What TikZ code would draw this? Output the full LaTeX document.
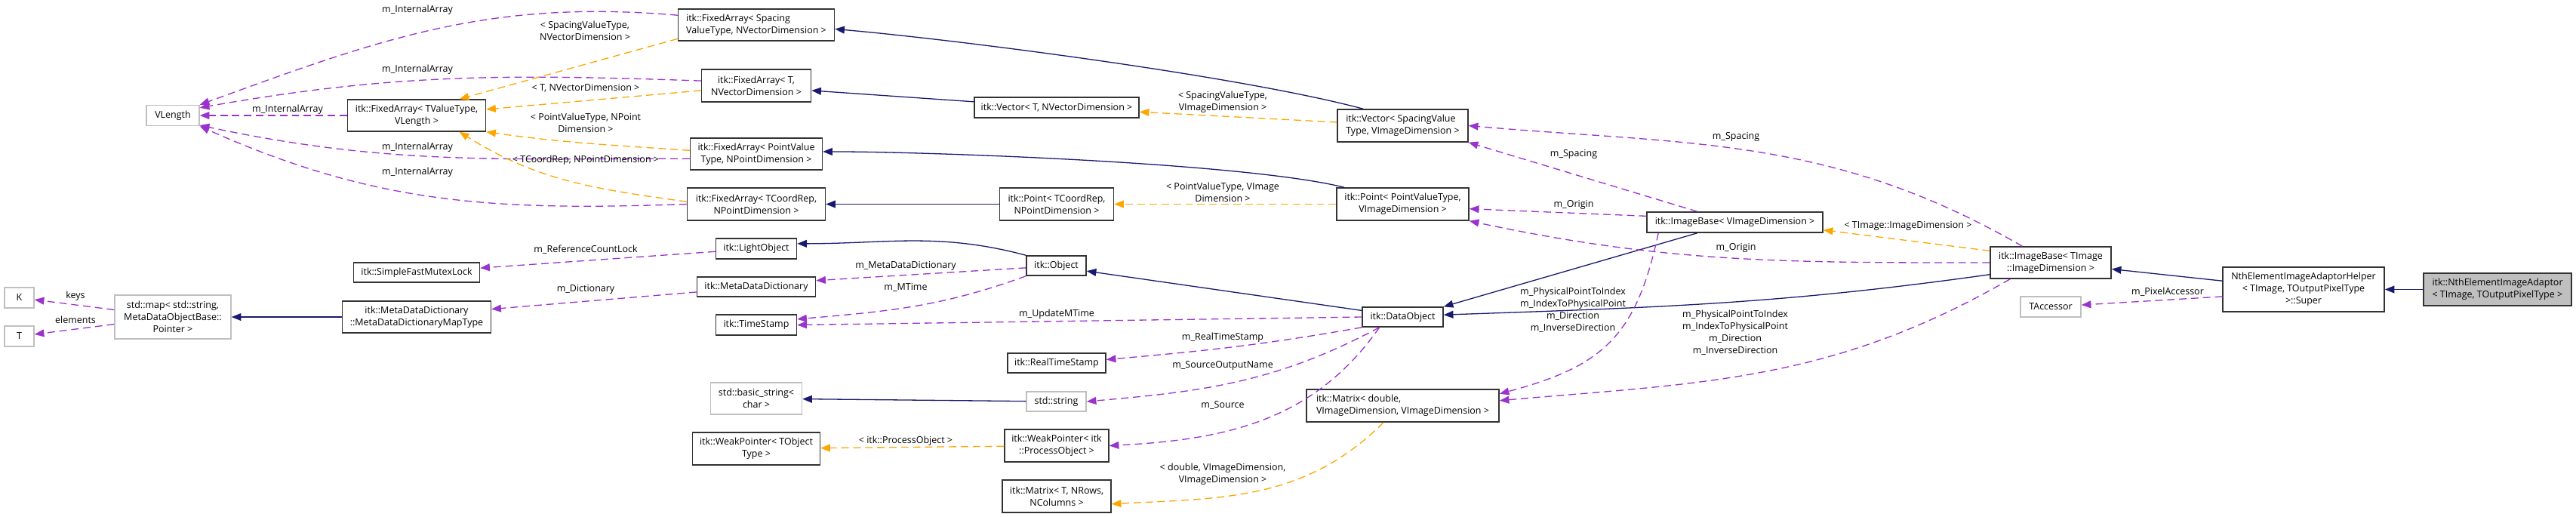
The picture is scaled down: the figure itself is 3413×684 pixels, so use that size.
\documentclass[tikz,border=0pt]{standalone}
\usepackage{fontspec}
\setmainfont{Open Sans}
\usetikzlibrary{arrows.meta}
\definecolor{navyedge}{HTML}{191970}
\definecolor{orchidedge}{HTML}{9A32CD}
\definecolor{tplorange}{HTML}{FFA500}
\definecolor{extgray}{HTML}{BFBFBF}
\begin{document}
\begin{tikzpicture}[x=0.01cm,y=-0.01cm,
	every node/.style={font=\fontsize{3.55}{4.55}\selectfont, inner sep=0pt},
	sz/.style 2 args={minimum width=#1*0.01cm, minimum height=#2*0.01cm},
	cls/.style={draw=black!80, fill=white, line width=0.42pt, align=center},
	ext/.style={cls, draw=extgray},
	cur/.style={cls, fill=extgray},
	lbl/.style={align=center},
	inh/.style={draw=navyedge, line width=0.37pt, -{Triangle[length=3.6pt,width=2.8pt]}},
	member/.style={draw=orchidedge, line width=0.37pt, dash pattern=on 2.8pt off 1.7pt, -{Triangle[length=3.6pt,width=2.8pt]}},
	tmpl/.style={member, draw=tplorange}]
	\useasboundingbox (0,0) rectangle (3413,684);
	% classes
	\node[ext, sz={70}{27}] (vlen) at (229,153) {VLength};
	\node[cls, sz={183}{42}] (faTV) at (552,153) {itk::FixedArray< TValueType,\\VLength >};
	\node[cls, sz={207}{42}, align=left] (faSp) at (1002,33) {itk::FixedArray< Spacing\\ValueType, NVectorDimension >};
	\node[cls, sz={145}{43}] (faT) at (1002,113.5) {itk::FixedArray< T,\\NVectorDimension >};
	\node[cls, sz={175}{42}] (faPV) at (1002,204) {itk::FixedArray< PointValue\\Type, NPointDimension >};
	\node[cls, sz={183}{43}] (faCR) at (1002,270.5) {itk::FixedArray< TCoordRep,\\NPointDimension >};
	\node[cls, sz={107}{27}] (light) at (1002,329.5) {itk::LightObject};
	\node[ext, sz={39}{27}] (keyK) at (25.5,394.5) {K};
	\node[ext, sz={39}{27}] (keyT) at (25.5,445.5) {T};
	\node[ext, sz={154}{58}] (stdmap) at (229,420) {std::map< std::string,\\MetaDataObjectBase::\\Pointer >};
	\node[cls, sz={167}{26}] (mutex) at (552,361) {itk::SimpleFastMutexLock};
	\node[cls, sz={197}{42}] (mapT) at (552,420) {itk::MetaDataDictionary\\::MetaDataDictionaryMapType};
	\node[cls, sz={157}{26}] (mdd) at (1002,380) {itk::MetaDataDictionary};
	\node[cls, sz={107}{27}] (tstamp) at (1002,430.5) {itk::TimeStamp};
	\node[ext, sz={121}{42}] (bstr) at (1002,528) {std::basic\_string<\\char >};
	\node[cls, sz={169}{43}] (wpT) at (1002,594.5) {itk::WeakPointer< TObject\\Type >};
	\node[cls, sz={218}{27}] (vecT) at (1400,142.5) {itk::Vector< T, NVectorDimension >};
	\node[cls, sz={151}{43}] (ptCR) at (1400,270.5) {itk::Point< TCoordRep,\\NPointDimension >};
	\node[cls, sz={79}{26}] (obj) at (1399.5,352) {itk::Object};
	\node[cls, sz={130}{26}] (rts) at (1400,481) {itk::RealTimeStamp};
	\node[ext, sz={79}{26}] (str) at (1399.5,532) {std::string};
	\node[cls, sz={138}{43}] (wpPO) at (1400,590.5) {itk::WeakPointer< itk\\::ProcessObject >};
	\node[cls, sz={144}{43}] (matT) at (1400,657.5) {itk::Matrix< T, NRows,\\NColumns >};
	\node[cls, sz={173}{43}, align=left] (vecSp) at (1858.5,166.5) {itk::Vector< SpacingValue\\Type, VImageDimension >};
	\node[cls, sz={175}{43}] (ptPV) at (1858.5,270.5) {itk::Point< PointValueType,\\VImageDimension >};
	\node[cls, sz={107}{26}] (data) at (1858.5,420) {itk::DataObject};
	\node[cls, sz={255}{43}, align=left] (matD) at (1858.5,537.5) {itk::Matrix< double,\\ VImageDimension, VImageDimension >};
	\node[cls, sz={233}{27}] (ibV) at (2298.5,294.5) {itk::ImageBase< VImageDimension >};
	\node[cls, sz={160}{42}] (ibT) at (2717,348) {itk::ImageBase< TImage\\::ImageDimension >};
	\node[ext, sz={80}{27}] (tacc) at (2717,406.5) {TAccessor};
	\node[cls, sz={214}{59}] (helper) at (3052,383.5) {NthElementImageAdaptorHelper\\< TImage, TOutputPixelType\\>::Super};
	\node[cur, sz={196}{43}, align=left] (adaptor) at (3309,383.5) {itk::NthElementImageAdaptor\\< TImage, TOutputPixelType >};
	% inheritance
	\draw[inh] (adaptor) -- (helper);
	\draw[inh] (helper.174) -- (ibT.-6);
	\draw[inh] (ibT.191) to[out=188,in=2] (data.3);
	\draw[inh] (ibV.196) -- (data.north east);
	\draw[inh] (data.171) -- (obj.-10);
	\draw[inh] (obj.north west) to[out=165,in=0] (light.7);
	\draw[inh] (vecSp.157) to[out=165,in=-5,looseness=0.6] (faSp.-3);
	\draw[inh] (vecT.176) -- (faT.-5);
	\draw[inh] (ptPV.164) to[out=166,in=0,looseness=0.5] (faPV.2);
	\draw[inh] (ptCR) -- (faCR);
	\draw[inh] (str) -- (bstr);
	\draw[inh] (mapT) -- (stdmap);
	% members
	\draw[member] (faSp.173) to[out=175,in=20] (vlen.north east);
	\draw[member] (faT.175) to[out=178,in=10] (vlen.16);
	\draw[member] (faTV) -- (vlen);
	\draw[member] (faPV.184) to[out=180,in=-12] (vlen.-20);
	\draw[member] (faCR.west) to[out=182,in=-24] (vlen.south east);
	\draw[member] (light.184) -- (mutex.4);
	\draw[member] (mdd.185) -- (mapT.6);
	\draw[member] (stdmap.173) -- (keyK);
	\draw[member] (stdmap.187) -- (keyT);
	\draw[member] (obj.184) -- (mdd.6);
	\draw[member] (obj.south west) to[out=200,in=5] (tstamp.8);
	\draw[member] (data.west) -- (tstamp.east);
	\draw[member] (data.south west) to[out=190,in=5] (rts.4);
	\draw[member] (data.204) to[out=208,in=5] (str.east);
	\draw[member] (data.204) to[out=235,in=3] (wpPO.east);
	\draw[member] (ibV.176) -- (ptPV.-4);
	\draw[member] (ibV.164) -- (vecSp.south east);
	\draw[member] (ibT.150) to[out=150,in=-5] (vecSp.east);
	\draw[member] (ibT.west) to[out=180,in=-12] (ptPV.south east);
	\draw[member] (ibV.188) to[out=258,in=15,looseness=1.2] (matD.7);
	\draw[member] (ibT.202) to[out=210,in=5] (matD.3);
	\draw[member] (helper.185) -- (tacc);
	% template instances
	\draw[tmpl] (faSp.190) -- (faTV.21);
	\draw[tmpl] (faT.185) -- (faTV.5);
	\draw[tmpl] (faPV.177) to[out=176,in=-8] (faTV.south east);
	\draw[tmpl] (faCR.178) to[out=172,in=-32] (faTV.-21);
	\draw[tmpl] (wpPO) -- (wpT);
	\draw[tmpl] (matD.221) to[out=225,in=3] (matT.-8);
	\draw[tmpl] (vecSp.177) -- (vecT.-3);
	\draw[tmpl] (ptPV) -- (ptCR);
	\draw[tmpl] (ibT.169) -- (ibV.-5);
	% edge labels
	\node[lbl] (lIA1) at (553,13) {m\_InternalArray};
	\node[lbl] (lIA2) at (553,92) {m\_InternalArray};
	\node[lbl] (lIA3) at (381,145) {m\_InternalArray};
	\node[lbl] (lIA4) at (553,195) {m\_InternalArray};
	\node[lbl] (lIA5) at (553,228) {m\_InternalArray};
	\node[lbl] (lSpNV) at (775,41) {< SpacingValueType,\\NVectorDimension >};
	\node[lbl] (lTNV) at (776,117) {< T, NVectorDimension >};
	\node[lbl] (lPVNP) at (776,163) {< PointValueType, NPoint\\Dimension >};
	\node[lbl] (lCRNP) at (776,212) {< TCoordRep, NPointDimension >};
	\node[lbl] (lRCL) at (776,331) {m\_ReferenceCountLock};
	\node[lbl] (lDict) at (776,383) {m\_Dictionary};
	\node[lbl] (lKeys) at (100,392) {keys};
	\node[lbl] (lElem) at (100,424) {elements};
	\node[lbl] (lMDD) at (1200,352) {m\_MetaDataDictionary};
	\node[lbl] (lMT) at (1200,381) {m\_MTime};
	\node[lbl] (lUMT) at (1400,416) {m\_UpdateMTime};
	\node[lbl] (lRTS) at (1620,447) {m\_RealTimeStamp};
	\node[lbl] (lSON) at (1620,484) {m\_SourceOutputName};
	\node[lbl] (lSrc) at (1620,537) {m\_Source};
	\node[lbl] (lPO) at (1200,584) {< itk::ProcessObject >};
	\node[lbl] (lDbl) at (1620,628) {< double, VImageDimension,\\VImageDimension >};
	\node[lbl] (lSpVI) at (1620,135) {< SpacingValueType,\\VImageDimension >};
	\node[lbl] (lPVVI) at (1620,255) {< PointValueType, VImage\\Dimension >};
	\node[lbl] (lSp1) at (2085,204) {m\_Spacing};
	\node[lbl] (lOr1) at (2085,271) {m\_Origin};
	\node[lbl] (lDir1) at (2084,411) {m\_PhysicalPointToIndex\\m\_IndexToPhysicalPoint\\m\_Direction\\m\_InverseDirection};
	\node[lbl] (lSp2) at (2300,181) {m\_Spacing};
	\node[lbl] (lImgDim) at (2528,299) {< TImage::ImageDimension >};
	\node[lbl] (lOr2) at (2300,328) {m\_Origin};
	\node[lbl] (lDir2) at (2299,441) {m\_PhysicalPointToIndex\\m\_IndexToPhysicalPoint\\m\_Direction\\m\_InverseDirection};
	\node[lbl] (lPA) at (2872,387) {m\_PixelAccessor};
\end{tikzpicture}
\end{document}
